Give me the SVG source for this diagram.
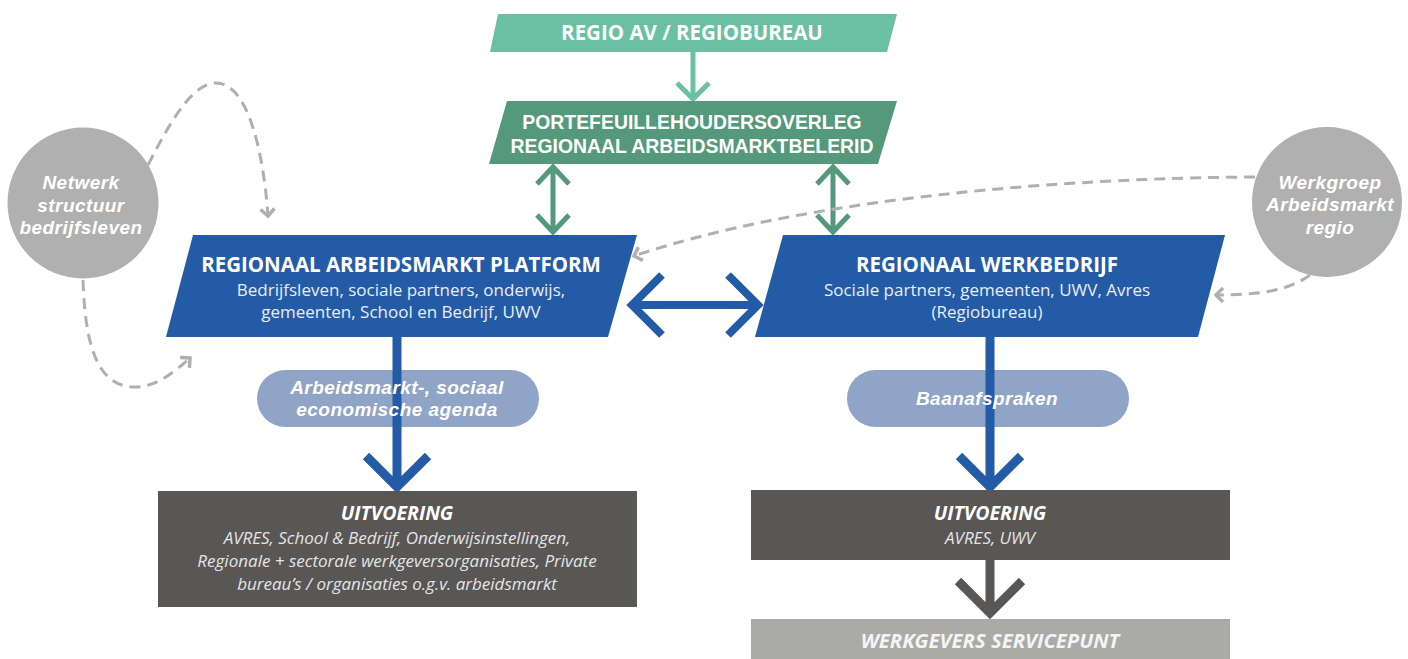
<svg xmlns="http://www.w3.org/2000/svg" width="1408" height="659" viewBox="0 0 1408 659">
<style>
.hdr{font-family:"Open Sans","Liberation Sans",sans-serif;font-weight:700;fill:#fff;text-anchor:middle}
.hdl{font-family:"Liberation Sans",Arial,sans-serif;font-weight:700;fill:#fff;text-anchor:middle;font-size:19.4px}
.sub{font-family:"Open Sans","Liberation Sans",sans-serif;font-weight:400;fill:#e8edf6;text-anchor:middle;font-size:17px}
.it{font-family:"Open Sans","Liberation Sans",sans-serif;font-style:italic;fill:#fff;text-anchor:middle}
.bi{font-family:"Liberation Sans",Arial,sans-serif;font-style:italic;font-weight:700;fill:#fff;text-anchor:middle;font-size:19px;letter-spacing:0.45px}
.lt{fill:#e4e4e4}
.dash{fill:none;stroke:#b0b0b0;stroke-width:3;stroke-dasharray:11 7}
</style>
<defs>
<marker id="ga" markerUnits="userSpaceOnUse" markerWidth="20" markerHeight="20" viewBox="-10 -10 20 20" refX="0" refY="0" orient="auto">
<path d="M-7,-7 L0,0 L-7,7" fill="none" stroke="#b0b0b0" stroke-width="3.5"/>
</marker>
</defs>
<rect width="1408" height="659" fill="#fff"/>

<g id="connectors">
<path d="M693,52 V99 M677,83 L693,99 L709,83" fill="none" stroke="#6bbfa3" stroke-width="5"/>
<path d="M553,166 V233 M537,184 L553,167 L569,184 M537,215 L553,232 L569,215" fill="none" stroke="#55997c" stroke-width="5"/>
<path d="M833,166 V233 M817,184 L833,167 L849,184 M817,215 L833,232 L849,215" fill="none" stroke="#55997c" stroke-width="5"/>
<path class="dash" d="M148,165 C175,112 195,83 216,83 C250,83 264,160 268,216" marker-end="url(#ga)"/>
<path class="dash" d="M83,280 C85,340 95,387 135,387 C155,387 172,374 190,358" marker-end="url(#ga)"/>
<path class="dash" d="M1255,177 C1050,178 800,200 634,256" marker-end="url(#ga)"/>
<path class="dash" d="M1310,275 C1290,290 1262,295 1216,295" marker-end="url(#ga)"/>
<path d="M632,305 H758 M662,275 L632,305 L662,335 M728,275 L758,305 L728,335" fill="none" stroke="#245ba6" stroke-width="8"/>
</g>

<g id="regio">
<polygon points="498,14 897,14 887,52 490,52" fill="#6bbfa3"/>
<text class="hdr" x="692" y="40" font-size="20.5">REGIO AV / REGIOBUREAU</text>
</g>

<g id="portefeuille">
<polygon points="507,101 897,101 878,164 489,164" fill="#55997c"/>
<text class="hdl"><tspan x="692" y="129">PORTEFEUILLEHOUDERSOVERLEG</tspan><tspan x="692" y="153">REGIONAAL ARBEIDSMARKTBELERID</tspan></text>
</g>

<g id="platform">
<polygon points="193,235 637,235 608,337 166,337" fill="#245ba6"/>
<text class="hdr" x="401" y="272" font-size="20.5">REGIONAAL ARBEIDSMARKT PLATFORM</text>
<text class="sub"><tspan x="401" y="296">Bedrijfsleven, sociale partners, onderwijs,</tspan><tspan x="401" y="318">gemeenten, School en Bedrijf, UWV</tspan></text>
</g>

<g id="werkbedrijf">
<polygon points="783,235 1225,235 1198,337 755,337" fill="#245ba6"/>
<text class="hdr" x="987" y="272" font-size="20.5">REGIONAAL WERKBEDRIJF</text>
<text class="sub"><tspan x="987" y="296">Sociale partners, gemeenten, UWV, Avres</tspan><tspan x="987" y="318">(Regiobureau)</tspan></text>
</g>

<g id="agenda">
<rect x="257" y="370" width="282" height="57" rx="28.5" fill="#8fa4c6"/>
<path d="M397,337 V487 M366,456 L397,487 L428,456" fill="none" stroke="#245ba6" stroke-width="9"/>
<text class="bi"><tspan x="397" y="394">Arbeidsmarkt-, sociaal</tspan><tspan x="397" y="416">economische agenda</tspan></text>
</g>

<g id="baanafspraken">
<rect x="847" y="370" width="282" height="57" rx="28.5" fill="#8fa4c6"/>
<path d="M990,337 V487 M959,456 L990,487 L1021,456" fill="none" stroke="#245ba6" stroke-width="9"/>
<text class="bi" x="987" y="405">Baanafspraken</text>
</g>

<g id="uitvoering-links">
<rect x="158" y="491" width="479" height="116" fill="#585756"/>
<text class="it" x="397" y="520" font-size="19.5" font-weight="700">UITVOERING</text>
<text class="it lt" font-size="17"><tspan x="397" y="544">AVRES, School &amp; Bedrijf, Onderwijsinstellingen,</tspan><tspan x="397" y="567">Regionale + sectorale werkgeversorganisaties, Private</tspan><tspan x="397" y="590">bureau’s / organisaties o.g.v. arbeidsmarkt</tspan></text>
</g>

<g id="uitvoering-rechts">
<rect x="751" y="490" width="479" height="70" fill="#585756"/>
<text class="it" x="990" y="520" font-size="19.5" font-weight="700">UITVOERING</text>
<text class="it lt" x="990" y="544" font-size="17">AVRES, UWV</text>
<path d="M990,560 V612 M958,581 L990,613 L1022,581" fill="none" stroke="#585756" stroke-width="9"/>
</g>

<g id="servicepunt">
<rect x="751" y="619" width="479" height="40" fill="#aaaaa9"/>
<text class="it" x="990" y="648" font-size="20.3" font-weight="700" style="fill:#f4f4f4">WERKGEVERS SERVICEPUNT</text>
</g>

<g id="netwerk">
<circle cx="83" cy="203" r="75.5" fill="#b0b0b0"/>
<text class="bi" letter-spacing="0"><tspan x="81" y="189">Netwerk</tspan><tspan x="81" y="212">structuur</tspan><tspan x="81" y="234">bedrijfsleven</tspan></text>
</g>

<g id="werkgroep">
<circle cx="1327" cy="202" r="75" fill="#b0b0b0"/>
<text class="bi" letter-spacing="0.3"><tspan x="1330" y="189">Werkgroep</tspan><tspan x="1330" y="211">Arbeidsmarkt</tspan><tspan x="1330" y="234">regio</tspan></text>
</g>
</svg>
